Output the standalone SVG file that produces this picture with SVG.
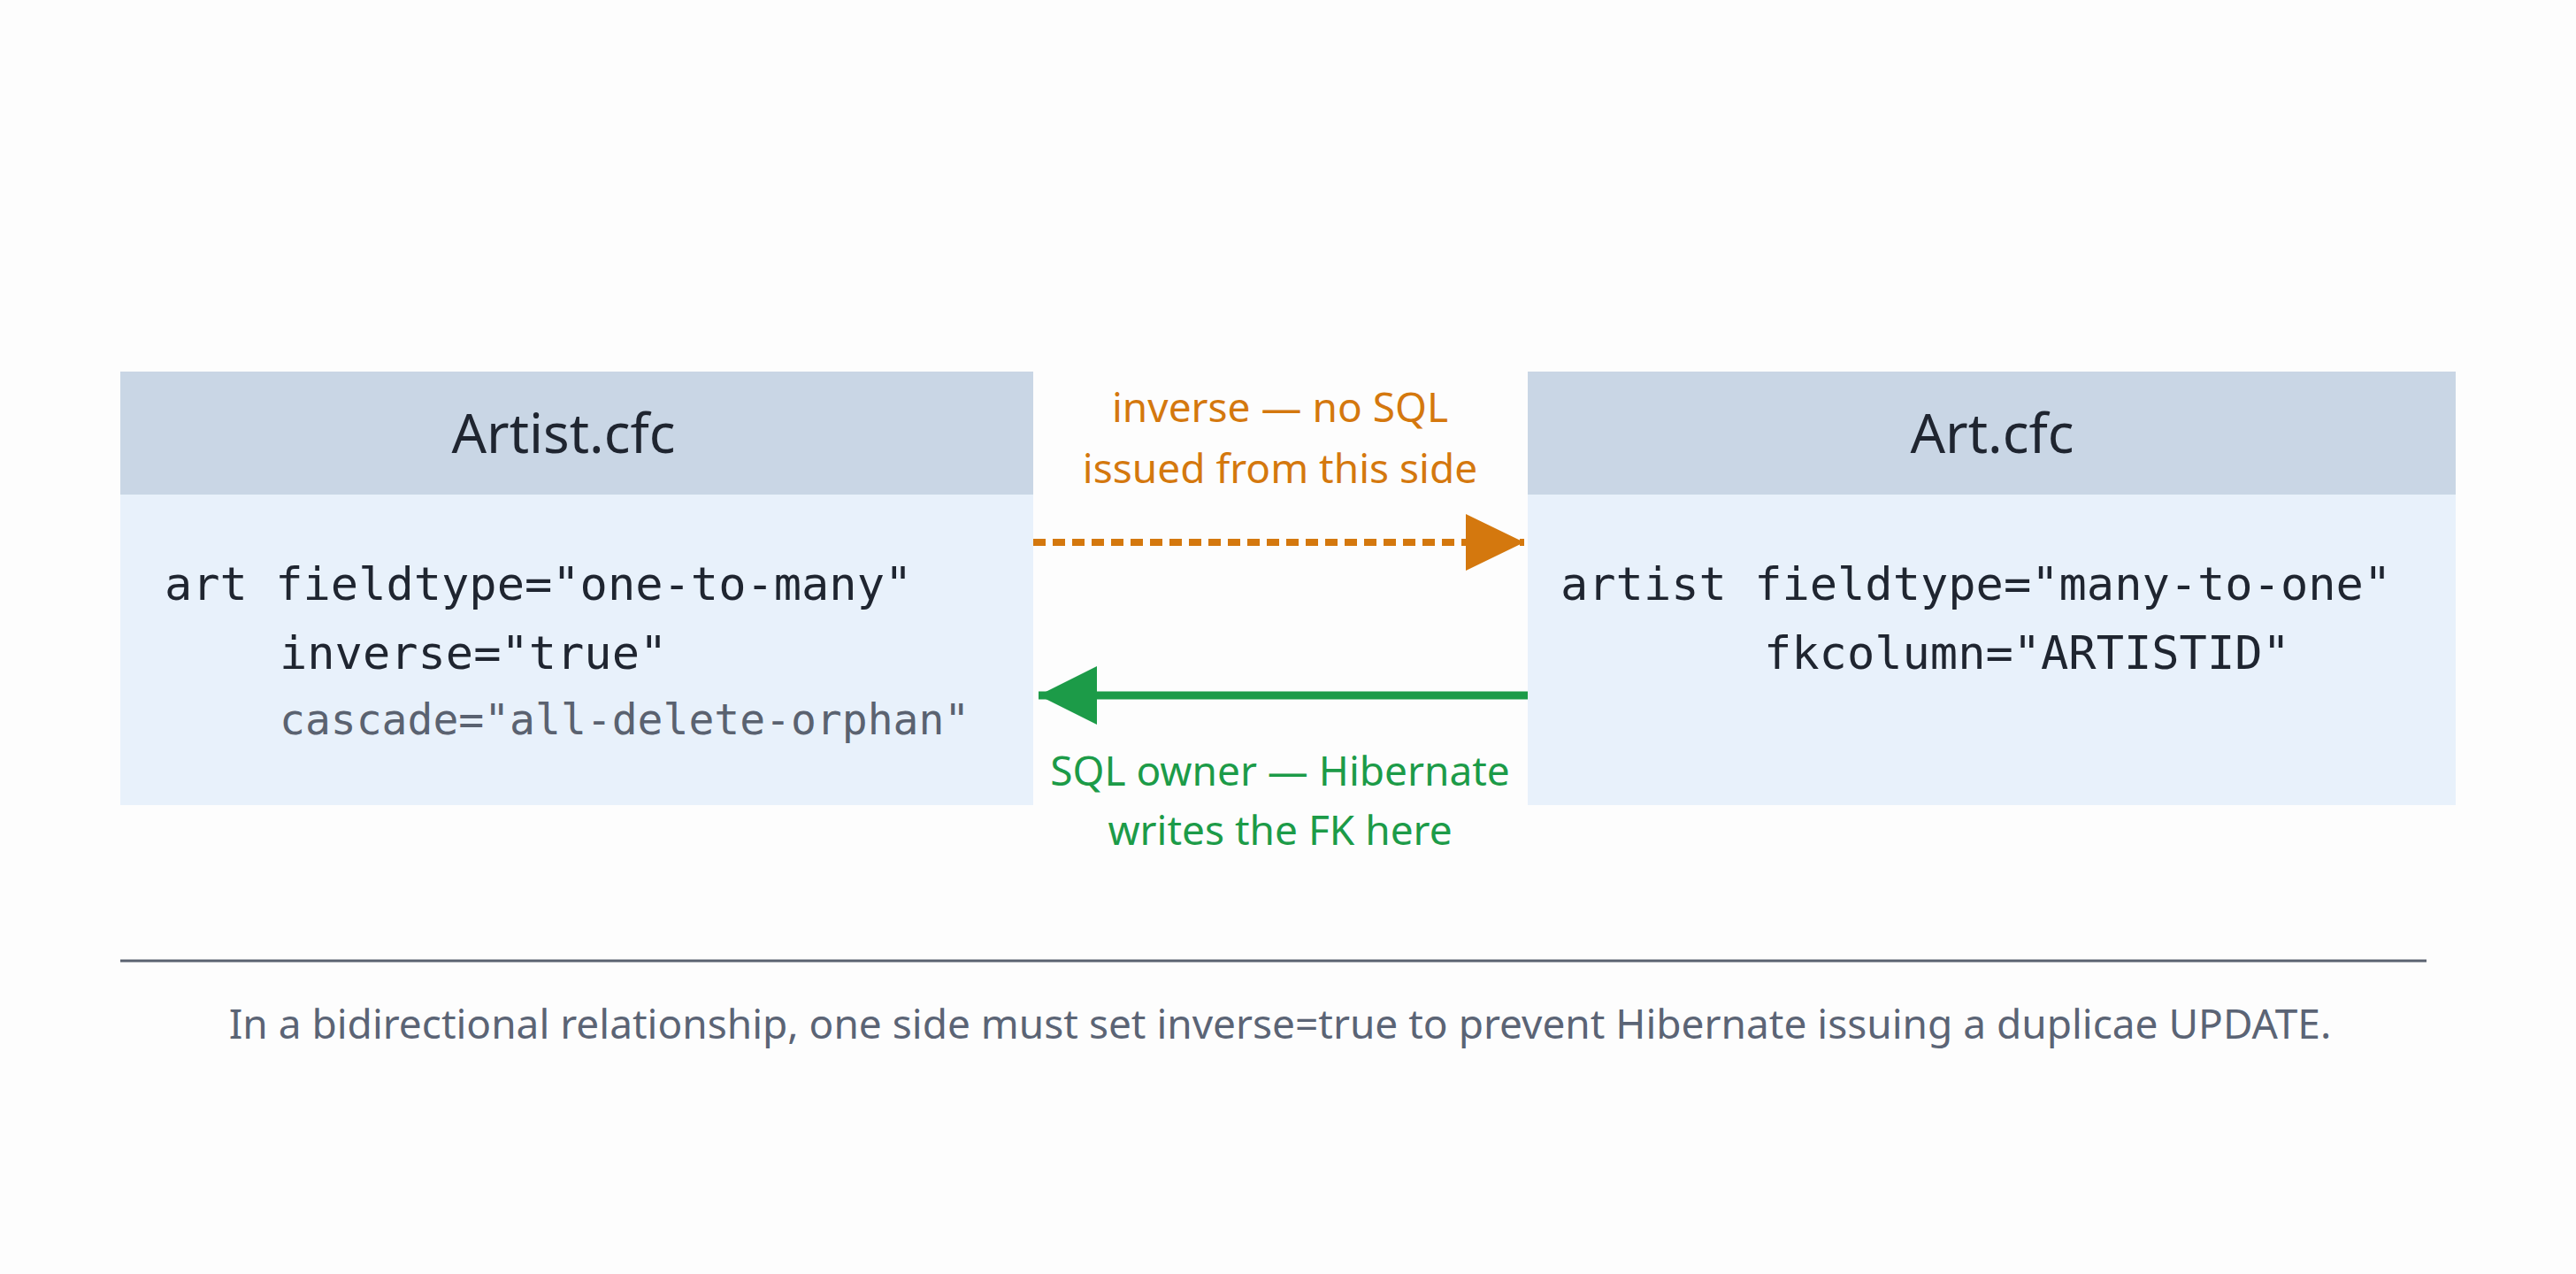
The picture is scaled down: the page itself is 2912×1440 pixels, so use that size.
<svg xmlns="http://www.w3.org/2000/svg" width="2912" height="1440" viewBox="0 0 2912 1440">
<style>
.hdr{fill:#c9d6e5}
.body{fill:#e8f1fb}
.title{font-family:"Noto Sans","Liberation Sans",sans-serif;font-size:62px;fill:#1f2530;text-anchor:middle}
.code{font-family:"DejaVu Sans Mono","Liberation Mono",monospace;font-size:52px;fill:#1f2530}
.code2{font-family:"DejaVu Sans Mono","Liberation Mono",monospace;font-size:48px;fill:#5a6270}
.lbl{font-family:"Noto Sans","Liberation Sans",sans-serif;font-size:46px;text-anchor:middle}
</style>
<defs>
<marker id="ao" markerUnits="userSpaceOnUse" markerWidth="70" markerHeight="64" refX="66" refY="32" orient="auto"><path d="M0,0 L66,32 L0,64 Z" fill="#d4780e"/></marker>
<marker id="ag" markerUnits="userSpaceOnUse" markerWidth="70" markerHeight="66" refX="66" refY="33" orient="auto"><path d="M0,0 L66,33 L0,66 Z" fill="#1c9b48"/></marker>
</defs>
<rect width="2912" height="1440" fill="#fdfdfd"/>
<g id="artist">
<rect class="body" x="136" y="420" width="1032" height="490"/>
<rect class="hdr" x="136" y="420" width="1032" height="139"/>
<text class="title" x="637" y="512">Artist.cfc</text>
<text class="code" x="186" y="678">art fieldtype="one-to-many"</text>
<text class="code" x="316" y="756">inverse="true"</text>
<text class="code2" x="316" y="830">cascade="all-delete-orphan"</text>
</g>
<g id="art">
<rect class="body" x="1727" y="420" width="1049" height="490"/>
<rect class="hdr" x="1727" y="420" width="1049" height="139"/>
<text class="title" x="2252" y="512">Art.cfc</text>
<text class="code" x="1764" y="678">artist fieldtype="many-to-one"</text>
<text class="code" x="1994" y="756">fkcolumn="ARTISTID"</text>
</g>
<g id="connectors">
<line x1="1168" y1="613" x2="1723" y2="613" stroke="#d4780e" stroke-width="8" stroke-dasharray="14 8" marker-end="url(#ao)"/>
<text class="lbl" x="1447" y="477" fill="#d4780e">inverse — no SQL</text>
<text class="lbl" x="1447" y="546" fill="#d4780e">issued from this side</text>
<line x1="1727" y1="786" x2="1174" y2="786" stroke="#1c9b48" stroke-width="9" marker-end="url(#ag)"/>
<text class="lbl" x="1447" y="888" fill="#1c9b48">SQL owner — Hibernate</text>
<text class="lbl" x="1447" y="955" fill="#1c9b48">writes the FK here</text>
</g>
<line x1="136" y1="1086" x2="2743" y2="1086" stroke="#5a6270" stroke-width="3"/>
<text class="lbl" x="1447" y="1174" fill="#5b6475" font-size="48">In a bidirectional relationship, one side must set inverse=true to prevent Hibernate issuing a duplicae UPDATE.</text>
</svg>
